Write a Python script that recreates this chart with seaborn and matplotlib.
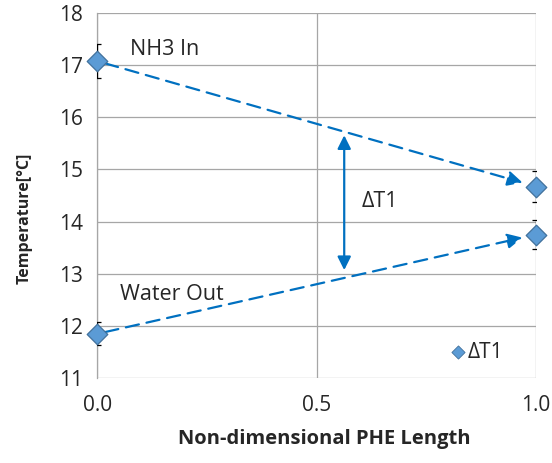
import matplotlib
matplotlib.use("Agg")
import matplotlib.pyplot as plt
import seaborn as sns
import pandas as pd

# Measured temperatures along the plate heat exchanger
position = [0.0, 1.0, 1.0, 0.0]
temperature = [17.07, 14.67, 13.75, 11.85]
error = [0.33, 0.30, 0.27, 0.22]
stream = ["NH3", "NH3", "Water", "Water"]

# Temperature-difference arrow between the two streams
dt_x = 0.563
dt_low = 13.07
dt_high = 15.65

x_ticks = [0.0, 0.5, 1.0]
y_ticks = [11, 12, 13, 14, 15, 16, 17, 18]

df = pd.DataFrame({"x": position, "T": temperature, "err": error, "stream": stream})

sns.set_style("white")
plt.rcParams["font.family"] = ["Open Sans", "DejaVu Sans"]

fig = plt.figure(figsize=(5.52, 4.63), dpi=100)
ax = fig.add_axes([0.176, 0.183, 0.795, 0.79])

line_color = "#0070C0"
fill_color = "#5B9BD5"
edge_color = "#41719C"

ax.errorbar(df["x"], df["T"], yerr=df["err"], fmt="none", ecolor="black",
            elinewidth=0.9, capsize=3, capthick=0.9, zorder=3)

# Dashed arrows connecting inlet and outlet of each stream
for s, g in df.groupby("stream"):
    g = g.sort_values("x")
    x0, x1 = g["x"].tolist()
    y0, y1 = g["T"].tolist()
    ax.annotate("", xy=(x1, y1), xytext=(x0, y0),
                arrowprops=dict(arrowstyle="-|>,head_length=0.9,head_width=0.45",
                                color=line_color, lw=1.6, linestyle=(0, (6, 3.5)),
                                shrinkA=6, shrinkB=10),
                zorder=2)

sns.scatterplot(data=df, x="x", y="T", marker="D", s=110, color=fill_color,
                edgecolor=edge_color, linewidth=0.9, ax=ax, zorder=4, legend=False,
                clip_on=False)

ax.annotate("", xy=(dt_x, dt_high), xytext=(dt_x, dt_low),
            arrowprops=dict(arrowstyle="<|-|>,head_length=0.8,head_width=0.4",
                            color=line_color, lw=1.6, shrinkA=0, shrinkB=0),
            zorder=2)

ax.text(0.603, 14.38, "ΔT1", fontsize=15.5, va="center", ha="left")
ax.text(0.075, 17.3, "NH3 In", fontsize=15.5, va="center", ha="left")
ax.text(0.052, 12.6, "Water Out", fontsize=15.5, va="center", ha="left")

# Legend entry
ax.scatter([0.823], [11.5], marker="D", s=45, color=fill_color,
           edgecolor=edge_color, linewidth=0.6, zorder=4, clip_on=False)
ax.text(0.845, 11.5, "ΔT1", fontsize=15, va="center", ha="left")

ax.set_xlim(0, 1)
ax.set_ylim(11, 18)
ax.set_xticks(x_ticks)
ax.set_xticklabels([f"{v:.1f}" for v in x_ticks])
ax.set_yticks(y_ticks)
ax.tick_params(axis="both", labelsize=15, length=0)
ax.tick_params(axis="y", pad=10)
ax.tick_params(axis="x", pad=12)
ax.grid(True, color="#A6A6A6", linewidth=0.9)
ax.set_axisbelow(True)
for side in ["top", "right", "bottom"]:
    ax.spines[side].set_visible(False)
ax.spines["left"].set_color("#A6A6A6")
ax.spines["left"].set_linewidth(0.9)

ax.set_xlabel("Non-dimensional PHE Length", fontsize=14.5, fontweight="bold")
ax.set_ylabel("Temperature[°C]", fontsize=11.5, fontweight="bold")
ax.xaxis.set_label_coords(0.517, -0.14)
ax.yaxis.set_label_coords(-0.146, 0.437)

fig.savefig("out.png", dpi=100)
